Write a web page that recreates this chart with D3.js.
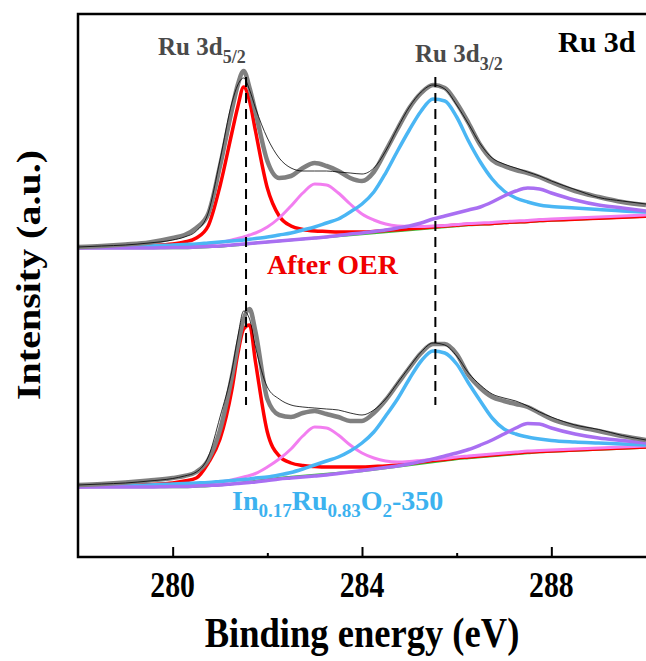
<!DOCTYPE html>
<html>
<head>
<meta charset="UTF-8">
<title>Ru 3d XPS</title>
<script src="https://cdn.jsdelivr.net/npm/d3@7"></script>
<style>
  body { margin: 0; background: #fff; }
  svg { display: block; font-family: "Liberation Serif", "Times New Roman", serif; font-weight: bold; }
</style>
</head>
<body>
<div id="chart"></div>
<script>
// binding energy grid (eV), denser around the sharp Ru 3d5/2 peak
const energy = [278, 278.5, 279, 279.5, 280, 280.25, 280.5, 280.75, 281, 281.25,
  281.375, 281.5, 281.625, 281.75, 282, 282.25, 282.5, 282.75, 283, 283.25, 283.5,
  283.75, 284, 284.25, 284.5, 284.75, 285, 285.25, 285.5, 285.75, 286, 286.25,
  286.5, 286.75, 287, 287.25, 287.5, 287.75, 288, 288.5, 289, 289.5, 290];

// After OER (upper spectrum), intensity above its own flat start
const oerBg     = [0,0,0,0,0, 0,0.5,1,1.5,2.5, 3,3.5,4.2, 5,6,7,8,9,10,11,12,13,14,15,16,17,18,19,20,21,22,23,23.5,24,25,25.5,26,27,27.5, 28.5,29.5,30.5,31.5];
const oerRu52   = [0.5,1,1.5,2.5,4, 6,10,22,62,115, 141,161,147, 117,60,32,22,18.5,17,16.5,16,16,16,16.5,17.5,18.3,19.2,20.1,21,22,22.8,23.7,24.2,24.6,25.5,26,26.4,27.4,27.9, 28.8,29.8,30.8,31.8];
const oerSat52  = [0,0.5,1,1.5,2, 2.5,3,4,5.5,8, 9.5,11,13, 15,21,30,42,55,64,63,55,44,34,28,24,22,21.5,21.5,22,22.5,23.5,24.5,25,25.5,26.5,27,27.5,28.5,29, 30,31,32,33];
const oerRu32   = [0.5,1,1.5,2,3, 3.5,4,5,6,7, 7.5,8,8.7, 9.5,11,13,15,18,21,25,29,36,44,56,75,97,118,137,149,147,131,107,86,69,57,50,46,43,41.5, 40,38.5,37,36];
const oerSat32  = [0,0,0,0,0.5, 0.5,1,1.5,2,3, 3.5,4,4.5, 5,6,7,8,9,10,11,12.5,14,15,16.5,18,20,22,25,29,32,35,38,41,46,52,57,60,59,55, 48,43,40,37];
const oerFit    = [1,2,3.5,5.5,10, 13,20,34,82,138, 163,177,160, 136,87,70,72,80,85,82,77,70,67,76,97,119,140,155,163,160,145,125,103,88,82,78,75,71,66, 57,51,46,43];
const oerRaw    = [1,2,3,5,8, 11,17,35,88,145, 163,170,158, 140,110,90,80,77,77,77,76,75,74,80,97,120,141,156,163,159,143,124,104,90,84,80,76,72,67, 58.5,50.5,47,44];

// In0.17Ru0.83O2-350 (lower spectrum)
const inrBg     = [0,0,0,0,0, 0,0.5,1,2,3, 3.7,4.5,5.2, 6,7.5,9,10,11,12,13,14,15,16,17.5,19,20.5,22,23.5,25,26.5,28,29,30,31,32,33,34,35,35.5, 36.5,37.5,38.5,39.5];
const inrRu52   = [0.5,1,1.5,2.5,4, 6,9,24,48,97, 133,158,162, 125,55,31,24,21.5,20.5,20,20,20,20,20.5,21,22,23.5,25,26.5,27.5,29,30,31,32,33,34,35,35.5,36, 37,38,39,40];
const inrSat52  = [0,0.5,1,1.5,2, 2.5,3,4,5,7, 8.5,10,11.5, 13.5,20,28,38,51,60,59,52,42,34,29,26,25,25.5,26.5,27.5,28.5,30,31,32,33,34,35,36,36.5,37, 38,39,40,41];
const inrRu32   = [0.5,1,1.5,2,3, 3.5,4,4.5,5.5,6.5, 7,7.5,8, 9,10,12,14.5,18,22,26,30,36,44,55,71,88,108,126,136,134,123,104,86,69,58,53,50,48,46.5, 45,44,43,42];
const inrSat32  = [0,0,0,0,0.5, 0.5,1,1.5,2,3, 3.5,4,4.5, 5,6.5,8,9,10,11,12,13.5,15,16.5,18,19.5,21,23,25.5,28,31,34,37.5,42,47,53,59,63.5,63,59, 53,49,46.5,44];
const inrFit    = [2,3,4.5,6.5,9, 11,15,27,57,110, 141,168,178, 155,88,72,70,74,76,73,70,66,66,74,87,103,119,134,143,143,133,112,99,90,86,83,80,74,68, 61,56,51,47];
const inrRaw    = [2,3,4,6,8.5, 11,15,30,70,116, 150,176,168, 140,100,88,82,80,79,78,77,74,72,77,88,104,120,135,144,142,131,114,102,93,89,86,81,75,70, 62,57.5,51.5,47];

// vertical stacking of the two spectra (a.u.)
const stackOffset = [309, 70];
const peakPositions = [281.55, 285.55];
const majorTicks = [280, 284, 288];
const minorTicks = [282, 286];

const W = 646, H = 661;
const margin = { left: 78, top: 14, right: 0, bottom: 104 };
// the original figure is a little narrower than tall: axis text is squeezed
const squeeze = 0.85;

const svg = d3.select("#chart").append("svg")
  .attr("width", W).attr("height", H);

svg.append("rect").attr("width", W).attr("height", H).attr("fill", "#fff");

const x = d3.scaleLinear().domain([278, 290]).range([margin.left, W - margin.right]);
const y = d3.scaleLinear().domain([0, 543]).range([H - margin.bottom, margin.top]);

svg.append("clipPath").attr("id", "plot-clip")
  .append("rect")
  .attr("x", margin.left).attr("y", margin.top)
  .attr("width", W - margin.left).attr("height", H - margin.bottom - margin.top);

const plot = svg.append("g").attr("clip-path", "url(#plot-clip)");

// component styles, in drawing order
const styles = [
  { color: "#39c239", width: 2.5 },   // background
  { color: "#ff0000", width: 3.5 },   // Ru 3d5/2
  { color: "#f27ef0", width: 3 },     // satellite 5/2
  { color: "#4ab6f4", width: 3.5 },   // Ru 3d3/2
  { color: "#a96ff2", width: 3.5 },   // satellite 3/2
  { color: "#808080", width: 4.5 },   // envelope
  { color: "#000000", width: 0.8 }    // raw data
];

const spectra = [
  [oerBg, oerRu52, oerSat52, oerRu32, oerSat32, oerFit, oerRaw],
  [inrBg, inrRu52, inrSat52, inrRu32, inrSat32, inrFit, inrRaw]
];

spectra.forEach((set, s) => {
  const line = d3.line()
    .x((d, i) => x(energy[i]))
    .y(d => y(d + stackOffset[s]))
    .curve(d3.curveMonotoneX);
  set.forEach((vals, k) => {
    plot.append("path")
      .attr("d", line(vals))
      .attr("fill", "none")
      .attr("stroke", styles[k].color)
      .attr("stroke-width", styles[k].width)
      .attr("stroke-linejoin", "round");
  });
});

// dashed peak markers
peakPositions.forEach(e => {
  svg.append("line")
    .attr("x1", x(e)).attr("x2", x(e))
    .attr("y1", y(480)).attr("y2", y(152))
    .attr("stroke", "#000")
    .attr("stroke-width", 2)
    .attr("stroke-dasharray", "10,6");
});

// frame (right side runs off the picture)
svg.append("path")
  .attr("d", `M${W + 5},${y(543)}H${margin.left}V${y(0)}H${W + 5}`)
  .attr("fill", "none")
  .attr("stroke", "#000")
  .attr("stroke-width", 2.5);

// ticks point inward, labels drawn separately so they can be squeezed
const gx = svg.append("g").attr("transform", `translate(0,${y(0)})`)
  .call(d3.axisBottom(x).tickValues(majorTicks).tickSizeInner(-10).tickSizeOuter(0).tickFormat(""));
gx.select(".domain").remove();
gx.selectAll(".tick line").attr("stroke-width", 2);

const gm = svg.append("g").attr("transform", `translate(0,${y(0)})`)
  .call(d3.axisBottom(x).tickValues(minorTicks).tickSizeInner(-4).tickSizeOuter(0).tickFormat(""));
gm.select(".domain").remove();
gm.selectAll(".tick line").attr("stroke-width", 2);

svg.selectAll(".xlabel")
  .data(majorTicks)
  .enter().append("text")
  .attr("class", "xlabel")
  .attr("transform", d => `translate(${x(d)},597) scale(${squeeze},1)`)
  .attr("text-anchor", "middle")
  .attr("font-size", 35)
  .text(d => d);

// axis titles
svg.append("text")
  .attr("transform", `translate(${(margin.left + W) / 2},647) scale(${squeeze},1)`)
  .attr("text-anchor", "middle").attr("font-size", 43)
  .text("Binding energy (eV)");

svg.append("text")
  .attr("transform", `translate(40,275) scale(${squeeze},1) rotate(-90)`)
  .attr("text-anchor", "middle").attr("font-size", 40)
  .text("Intensity (a.u.)");

// annotations
svg.append("text").attr("x", 558).attr("y", 52).attr("font-size", 30).attr("fill", "#000").text("Ru 3d");

function subLabel(xp, yp, parts, size, subSize, color) {
  const t = svg.append("text").attr("x", xp).attr("y", yp).attr("font-size", size).attr("fill", color);
  parts.forEach(p => {
    const ts = t.append("tspan").text(p.t);
    if (p.sub) ts.attr("font-size", subSize).attr("dy", p.dy);
    else if (p.dy) ts.attr("dy", p.dy);
  });
  return t;
}

subLabel(158, 55, [{ t: "Ru 3d" }, { t: "5/2", sub: true, dy: 8 }], 25, 18, "#4a4a4a");
subLabel(415, 62, [{ t: "Ru 3d" }, { t: "3/2", sub: true, dy: 8 }], 25, 18, "#4a4a4a");

svg.append("text").attr("x", 267).attr("y", 274).attr("font-size", 28).attr("fill", "#f00000").text("After OER");

subLabel(232, 510, [
  { t: "In" }, { t: "0.17", sub: true, dy: 7 },
  { t: "Ru", dy: -7 }, { t: "0.83", sub: true, dy: 7 },
  { t: "O", dy: -7 }, { t: "2", sub: true, dy: 7 },
  { t: "-350", dy: -7 }
], 28, 19, "#3cb2ef");
</script>
</body>
</html>
